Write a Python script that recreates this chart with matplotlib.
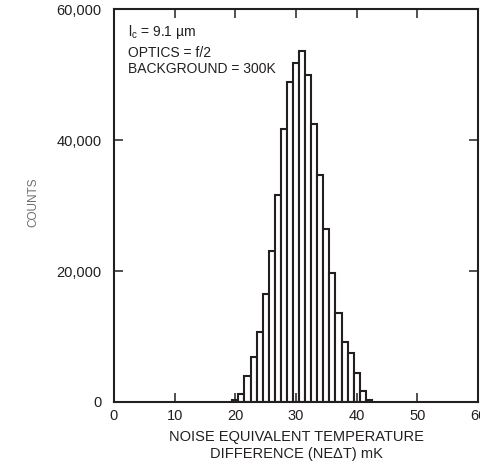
import numpy as np
import matplotlib.pyplot as plt

plt.rcParams['font.family'] = ['Liberation Sans', 'DejaVu Sans']
plt.rcParams['mathtext.fontset'] = 'custom'
plt.rcParams['mathtext.rm'] = 'Liberation Sans'

# NE-delta-T histogram, 1 mK bins centred on integer values
netd_bins = [20, 21, 22, 23, 24, 25, 26, 27, 28, 29, 30, 31,
             32, 33, 34, 35, 36, 37, 38, 39, 40, 41, 42]
counts = [300, 1200, 4000, 6900, 10700, 16500, 23100, 31600, 41700, 48900, 51800, 53600,
          49900, 42400, 34700, 26400, 19700, 13600, 9200, 7500, 4400, 1700, 300]

x_ticks = [0, 10, 20, 30, 40, 50, 60]
y_ticks = [0, 20000, 40000, 60000]
y_tick_labels = ['0', '20,000', '40,000', '60,000']

ink = '#231f20'

fig = plt.figure(figsize=(4.81, 4.65), dpi=100)
ax = fig.add_axes([0.237, 0.1355, 0.7568, 0.845])

ax.bar(netd_bins, counts, width=1.0, color='white', edgecolor=ink, linewidth=1.5)

ax.set_xlim(0, 60)
ax.set_ylim(0, 60000)
ax.set_xticks(x_ticks)
ax.set_yticks(y_ticks)
ax.set_yticklabels(y_tick_labels)

for s in ax.spines.values():
    s.set_linewidth(1.5)
    s.set_color(ink)

ax.tick_params(axis='both', direction='in', top=True, right=True,
               length=6.5, width=1.1, color=ink, labelcolor=ink, labelsize=10.5)
ax.tick_params(axis='x', pad=5)
ax.tick_params(axis='y', pad=9)

ax.set_xlabel('NOISE EQUIVALENT TEMPERATURE\nDIFFERENCE (NE\u0394T) mK',
              fontsize=10.5, color=ink, linespacing=1.25, labelpad=5)
fig.text(0.069, 0.565, 'COUNTS', rotation=90, fontsize=8.5, color='#6e6e6e',
         ha='center', va='center')

# annotation block in the upper left corner
ax.text(2.3, 55900, '$\\mathrm{l_c}$ = 9.1 \u00b5m', fontsize=10, color=ink, va='baseline')
ax.text(2.3, 52700, 'OPTICS = f/2', fontsize=10, color=ink, va='baseline')
ax.text(2.3, 50200, 'BACKGROUND = 300K', fontsize=10, color=ink, va='baseline')

fig.savefig('out.png', dpi=100)
